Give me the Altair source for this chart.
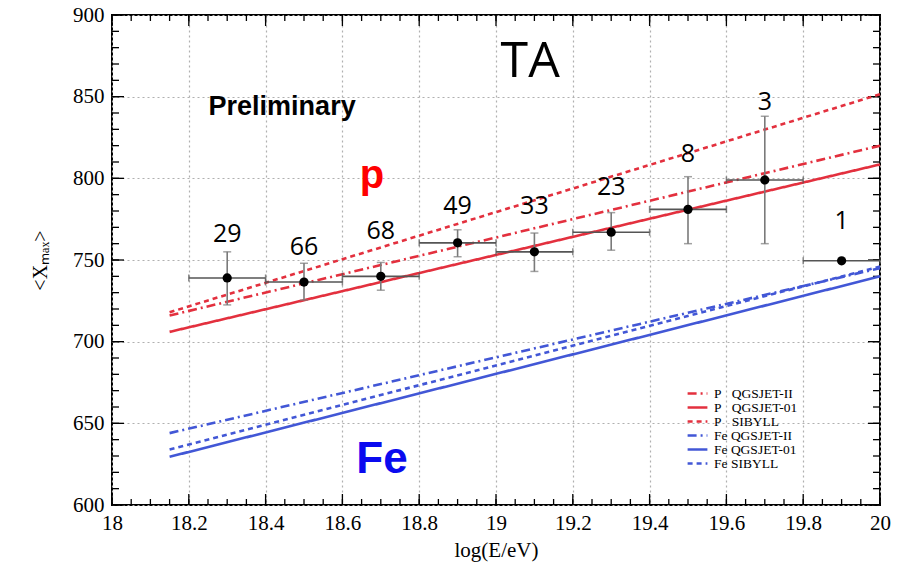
import altair as alt
import pandas as pd
import numpy as np

# ---------------- data ----------------
bin_center = [18.3, 18.5, 18.7, 18.9, 19.1, 19.3, 19.5, 19.7, 19.9]
bin_lo = [18.2, 18.4, 18.6, 18.8, 19.0, 19.2, 19.4, 19.6, 19.8]
bin_hi = [18.4, 18.6, 18.8, 19.0, 19.2, 19.4, 19.6, 19.8, 20.0]
xmax_mean = [739, 736.5, 740, 760.5, 755, 767, 781, 799, 749.5]
err_lo = [722.5, 725.5, 731.5, 752, 743, 756, 760, 760, 749.5]
err_hi = [755, 748, 748.5, 768.5, 766.5, 779, 801, 838, 749.5]
n_events = ["29", "66", "68", "49", "33", "23", "8", "3", "1"]
label_y = [766, 758, 768, 783, 783, 795, 815, 847, 774]

models = ["P\u00a0\u00a0\u00a0QGSJET-II", "P\u00a0\u00a0\u00a0QGSJET-01", "P\u00a0\u00a0\u00a0SIBYLL",
          "Fe\u00a0QGSJET-II", "Fe\u00a0QGSJET-01", "Fe\u00a0SIBYLL"]
model_x = [18.15, 20.0]
model_start = [716, 706, 718, 644, 629.5, 634]
model_end = [820, 808.5, 851.5, 745, 740, 746]
model_colors = ["#e3303e", "#e3303e", "#e3303e", "#4257d6", "#4257d6", "#4257d6"]
model_dash = [[9, 4, 2, 4], [1, 0], [5, 4], [9, 4, 2, 4], [1, 0], [5, 4]]

x_major = [18, 18.2, 18.4, 18.6, 18.8, 19, 19.2, 19.4, 19.6, 19.8, 20]
y_major = [600, 650, 700, 750, 800, 850, 900]
x_minor = [round(18 + 0.05 * i, 2) for i in range(41)]
y_minor = [600 + 10 * i for i in range(31)]

W, H = 768, 490
xs = alt.Scale(domain=[18, 20], nice=False, zero=False)
ys = alt.Scale(domain=[600, 900], nice=False, zero=False)

pts = pd.DataFrame({"e": bin_center, "lo": bin_lo, "hi": bin_hi, "x": xmax_mean,
                    "elo": err_lo, "ehi": err_hi, "n": n_events, "ly": label_y})

rows = []
for m, s, e in zip(models, model_start, model_end):
    rows.append({"model": m, "e": model_x[0], "x": s})
    rows.append({"model": m, "e": model_x[1], "x": e})
lines_df = pd.DataFrame(rows)

serif = "Liberation Serif"

base = alt.Chart(pts)

# grid + axes (labels only)
axes = alt.Chart(pd.DataFrame({"e": [18], "x": [600]})).mark_point(opacity=0).encode(
    x=alt.X("e:Q", scale=xs, axis=alt.Axis(values=x_major, format="~g", title="log(E/eV)",
                                             grid=True, gridDash=[2, 3], gridColor="#b0b0b0",
                                             gridWidth=1.2, ticks=False, domain=False,
                                             labelFont=serif, labelFontSize=21, labelColor="black",
                                             labelPadding=7, titleFont=serif, titleFontSize=21,
                                             titleFontWeight="normal", titleColor="black",
                                             titlePadding=6, labelFlush=False)),
    y=alt.Y("x:Q", scale=ys, axis=alt.Axis(values=y_major, title="<Xₘₐₓ>", grid=True,
                                           gridDash=[2, 3], gridColor="#b0b0b0", gridWidth=1.2,
                                           ticks=False, domain=False, labelFont=serif,
                                           labelFontSize=21, labelColor="black", labelPadding=8,
                                           titleFont=serif, titleFontSize=20,
                                           titleFontWeight="normal", titleColor="black",
                                           titlePadding=22)),
)

# inward ticks
def xticks(vals, length, top):
    d = pd.DataFrame({"e": vals})
    if top:
        y1, y2 = 0, length
    else:
        y1, y2 = H, H - length
    return alt.Chart(d).mark_rule(color="black", strokeWidth=1.3).encode(
        x=alt.X("e:Q", scale=xs), y=alt.value(y1), y2=alt.value(y2))

def yticks(vals, length, right):
    d = pd.DataFrame({"x": vals})
    if right:
        x1, x2 = W, W - length
    else:
        x1, x2 = 0, length
    return alt.Chart(d).mark_rule(color="black", strokeWidth=1.3).encode(
        y=alt.Y("x:Q", scale=ys), x=alt.value(x1), x2=alt.value(x2))

tick_layers = [
    xticks(x_minor, 6, False), xticks(x_major, 11, False),
    xticks(x_minor, 6, True), xticks(x_major, 11, True),
    yticks(y_minor, 7, False), yticks(y_major, 12, False),
    yticks(y_minor, 7, True), yticks(y_major, 12, True),
]

model_lines = alt.Chart(lines_df).mark_line(strokeWidth=2.6).encode(
    x=alt.X("e:Q", scale=xs),
    y=alt.Y("x:Q", scale=ys),
    color=alt.Color("model:N", scale=alt.Scale(domain=models, range=model_colors),
                    sort=models, legend=alt.Legend(title=None)),
    strokeDash=alt.StrokeDash("model:N", scale=alt.Scale(domain=models, range=model_dash),
                              sort=models, legend=alt.Legend(title=None)),
    detail="model:N",
)

hbar = base.mark_rule(color="#555555", strokeWidth=1.6).encode(
    x=alt.X("lo:Q", scale=xs), x2="hi:Q", y=alt.Y("x:Q", scale=ys))
hcap_lo = base.mark_tick(orient="vertical", size=7, thickness=1.5, color="#555555").encode(
    x=alt.X("lo:Q", scale=xs), y=alt.Y("x:Q", scale=ys))
hcap_hi = base.mark_tick(orient="vertical", size=7, thickness=1.5, color="#555555").encode(
    x=alt.X("hi:Q", scale=xs), y=alt.Y("x:Q", scale=ys))
vbar = base.mark_rule(color="#7a7a7a", strokeWidth=1.6).encode(
    x=alt.X("e:Q", scale=xs), y=alt.Y("elo:Q", scale=ys), y2="ehi:Q")
vcap_lo = base.mark_tick(orient="horizontal", size=8, thickness=1.5, color="#7a7a7a").encode(
    x=alt.X("e:Q", scale=xs), y=alt.Y("elo:Q", scale=ys))
vcap_hi = base.mark_tick(orient="horizontal", size=8, thickness=1.5, color="#7a7a7a").encode(
    x=alt.X("e:Q", scale=xs), y=alt.Y("ehi:Q", scale=ys))
dots = base.mark_circle(size=85, color="black", opacity=1).encode(
    x=alt.X("e:Q", scale=xs), y=alt.Y("x:Q", scale=ys))
counts = base.mark_text(font="Open Sans", fontSize=25, color="black", baseline="middle").encode(
    x=alt.X("e:Q", scale=xs), y=alt.Y("ly:Q", scale=ys), text="n:N")

def annot(txt, ex, xv, font, size, weight, color):
    d = pd.DataFrame({"e": [ex], "x": [xv], "t": [txt]})
    return alt.Chart(d).mark_text(font=font, fontSize=size, fontWeight=weight, color=color,
                                  baseline="alphabetic", align="center").encode(
        x=alt.X("e:Q", scale=xs), y=alt.Y("x:Q", scale=ys), text="t:N")

ta = annot("TA", 19.089, 862, "Open Sans", 50, "normal", "black")
prelim = annot("Preliminary", 18.443, 839, "Liberation Sans", 27, "bold", "black")
p_lab = annot("p", 18.677, 794, "Liberation Sans", 40, "bold", "#ff0000")
fe_lab = annot("Fe", 18.703, 619.6, "Liberation Sans", 44, "bold", "#0a0aef")

chart = alt.layer(
    axes, *tick_layers, model_lines, hbar, hcap_lo, hcap_hi, vbar, vcap_lo, vcap_hi, dots,
    counts, ta, prelim, p_lab, fe_lab,
).properties(
    width=W, height=H,
    autosize=alt.AutoSizeParams(type="none"),
    padding={"left": 112, "top": 15, "right": 24, "bottom": 62},
    background="white",
).configure_view(
    stroke="black", strokeWidth=2,
).configure_legend(
    orient="none", legendX=578, legendY=371, symbolType="M-1.65,0H1.65", symbolSize=144,
    symbolStrokeWidth=2.6, labelFont=serif, labelFontSize=13.5, labelColor="black",
    rowPadding=0, labelOffset=9, padding=0,
)

chart.save("out.html", embed_options={"renderer": "svg", "actions": False})
